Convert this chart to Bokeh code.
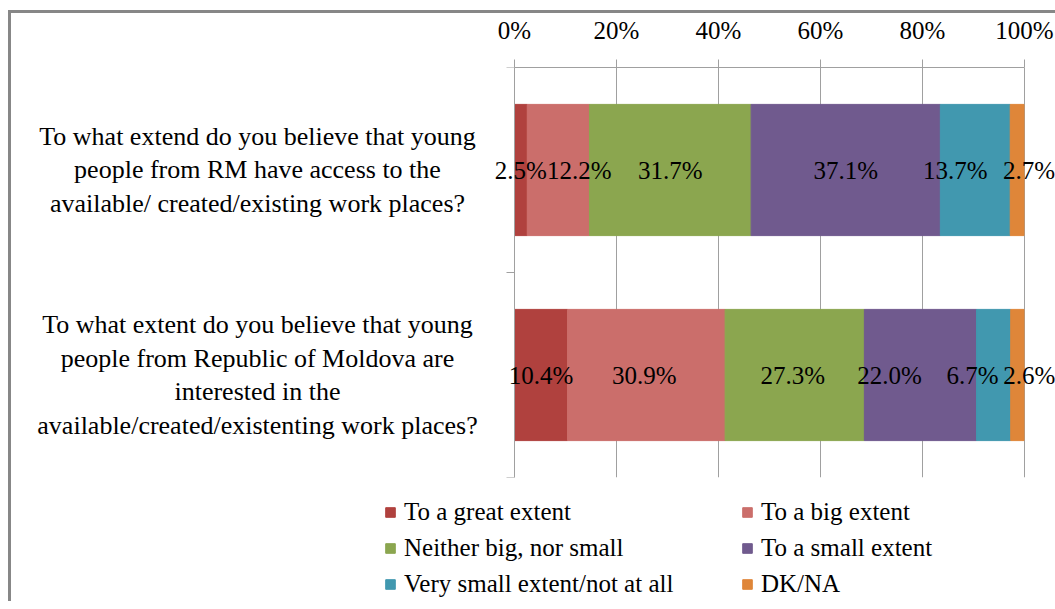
from bokeh.plotting import figure
from bokeh.layouts import column
from bokeh.models import (ColumnDataSource, Range1d, FixedTicker, PrintfTickFormatter,
                          Label, LabelSet, Legend, LegendItem)
from bokeh.core.properties import value
from bokeh.embed import file_html
from bokeh.resources import INLINE

# ---------------- data ----------------
questions = [
    "To what extend do you believe that young\npeople from RM have access to the\navailable/ created/existing work places?",
    "To what extent do you believe that young\npeople from Republic of Moldova are\ninterested in the\navailable/created/existenting work places?",
]
answers = ["To a great extent", "To a big extent", "Neither big, nor small",
           "To a small extent", "Very small extent/not at all", "DK/NA"]
great_extent = [2.5, 10.4]
big_extent = [12.2, 30.9]
neither = [31.7, 27.3]
small_extent = [37.1, 22.0]
very_small = [13.7, 6.7]
dk_na = [2.7, 2.6]
x_ticks = [0, 20, 40, 60, 80, 100]

# ---------------- styles / layout (pixels) ----------------
colors = ["#B0413E", "#CB6E6B", "#8BA64F", "#705A8E", "#4198AF", "#DF8639"]
label_dx = [[0, 21, 0, 0, -20, 12],      # pixel nudges of data labels (Excel placement)
            [0, -2, -2, -31, -21, 12]]
FONT_NAME = "Liberation Serif"
FS = "25px"
GRID = "#A0A0A0"
W = 1044
H_MAIN, H_LEG = 467, 121
BORDER_L = 10
ZERO_PX, HUNDRED_PX = 503, 1013   # canvas x of 0% and 100%
TOP, BOTTOM = 54, 3
QLABEL_PX = 246

scale = (HUNDRED_PX - ZERO_PX) / 100.0
x_start = -(ZERO_PX - BORDER_L) / scale
x_end = 100 + (W - HUNDRED_PX) / scale

keys = ["great", "big", "neither", "small", "very_small", "dkna"]
series = [great_extent, big_extent, neither, small_extent, very_small, dk_na]
n = len(questions)
ypos = [n - i - 0.5 for i in range(n)]

data = dict(y=ypos)
for k, s in zip(keys, series):
    data[k] = s
src = ColumnDataSource(data)

p = figure(width=W, height=H_MAIN,
           x_range=Range1d(x_start, x_end), y_range=Range1d(0, n),
           x_axis_location="above",
           output_backend="svg", toolbar_location=None,
           min_border_left=BORDER_L, min_border_right=0,
           min_border_top=TOP, min_border_bottom=BOTTOM)
p.outline_line_color = None

renderers = p.hbar_stack(keys, y="y", height=0.64, color=colors, source=src)

# x axis on top, only over 0..100
p.xaxis.ticker = FixedTicker(ticks=x_ticks)
p.xaxis.bounds = (0, 100)
p.xaxis.formatter = PrintfTickFormatter(format="%d%%")
p.xaxis.major_tick_out = 8
p.xaxis.major_tick_in = 0
p.xaxis.minor_tick_line_color = None
p.xaxis.axis_line_color = GRID
p.xaxis.major_tick_line_color = GRID
p.xaxis.major_label_text_font = FONT_NAME
p.xaxis.major_label_text_font_size = FS
p.xaxis.major_label_text_color = "black"
p.xaxis.major_label_standoff = 16

# category axis at x = 0, ticks at category boundaries
p.yaxis.fixed_location = 0
p.yaxis.ticker = FixedTicker(ticks=list(range(n + 1)))
p.yaxis.major_label_overrides = {i: "" for i in range(n + 1)}
p.yaxis.major_label_standoff = 0
p.yaxis.major_tick_out = 8
p.yaxis.major_tick_in = 0
p.yaxis.minor_tick_line_color = None
p.yaxis.axis_line_color = GRID
p.yaxis.major_tick_line_color = GRID

p.xgrid.ticker = FixedTicker(ticks=x_ticks)
p.xgrid.grid_line_color = GRID
p.ygrid.visible = False

# data labels
lx, ly, lt, ld = [], [], [], []
for i in range(n):
    left = 0.0
    for j, s in enumerate(series):
        v = s[i]
        lx.append(left + v / 2)
        ly.append(ypos[i])
        lt.append(f"{v:.1f}%")
        ld.append(label_dx[i][j])
        left += v
lsrc = ColumnDataSource(dict(x=lx, y=ly, text=lt, dx=ld))
p.add_layout(LabelSet(x="x", y="y", text="text", x_offset="dx", source=lsrc,
                      text_align="center", text_baseline="middle",
                      text_font=value(FONT_NAME), text_font_size=FS, text_color="black"))

# question labels
q_x = (QLABEL_PX - ZERO_PX) / scale
for q, y in zip(questions, ypos):
    p.add_layout(Label(x=q_x, y=y, text=q, text_align="center", text_baseline="middle",
                       text_font=FONT_NAME, text_font_size="26px", text_color="black",
                       text_line_height=1.17))

# ---------------- legend figure ----------------
pl = figure(width=W, height=H_LEG, x_range=Range1d(0, 1), y_range=Range1d(0, 1),
            x_axis_type=None, y_axis_type=None,
            output_backend="svg", toolbar_location=None,
            min_border_left=0, min_border_right=0, min_border_top=0, min_border_bottom=0)
pl.outline_line_color = None
nan = float("nan")
leg_src = ColumnDataSource(dict(y=[nan], right=[nan]))   # legend proxies, nothing drawn
leg_r = [pl.hbar(y="y", right="right", height=0.5, color=c, source=leg_src) for c in colors]
items = [LegendItem(label=a, renderers=[r]) for a, r in zip(answers, leg_r)]
order = [0, 2, 4, 1, 3, 5]   # column-major fill of the 2-column grid
legend = Legend(items=[items[k] for k in order], location=(363, 3),
                orientation="vertical", nrows=3,
                glyph_width=12, glyph_height=12, label_standoff=8, label_width=329,
                spacing=8, padding=0, margin=0,
                label_text_font=FONT_NAME, label_text_font_size=FS,
                label_text_color="black",
                border_line_color=None, background_fill_alpha=0)
pl.add_layout(legend)

layout = column(p, pl, spacing=0,
                styles={"border-left": "3px solid #878787",
                        "border-top": "3px solid #878787",
                        "margin-left": "8px",
                        "margin-top": "10px"})

open("out.html", "w").write(file_html(layout, INLINE))
